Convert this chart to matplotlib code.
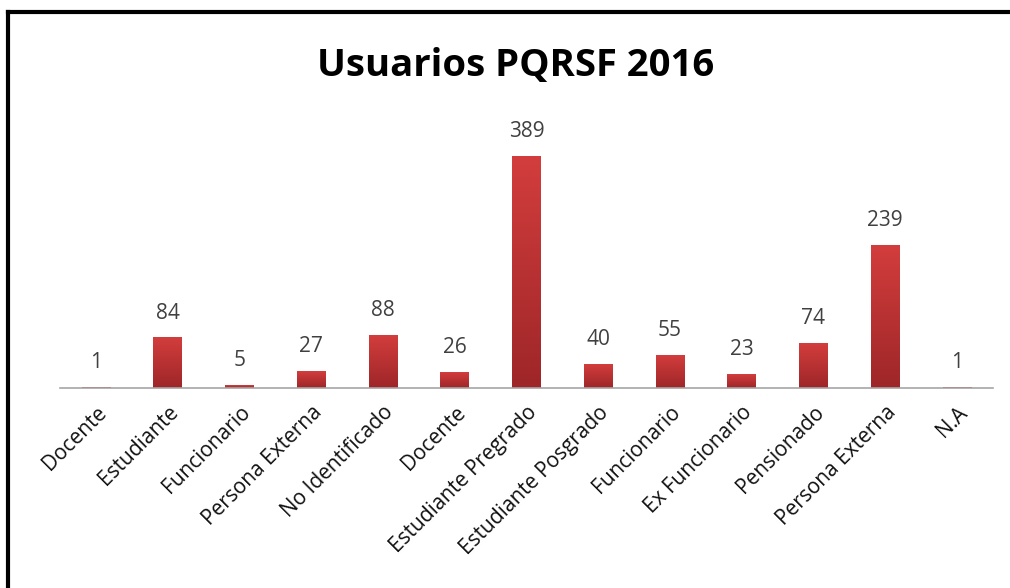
import numpy as np
import matplotlib
matplotlib.use("Agg")
import matplotlib.pyplot as plt
from matplotlib.colors import LinearSegmentedColormap
from matplotlib.lines import Line2D

categorias = ["Docente", "Estudiante", "Funcionario", "Persona Externa",
              "No Identificado", "Docente", "Estudiante Pregrado",
              "Estudiante Posgrado", "Funcionario", "Ex Funcionario",
              "Pensionado", "Persona Externa", "N.A"]
usuarios = [1, 84, 5, 27, 88, 26, 389, 40, 55, 23, 74, 239, 1]

plt.rcParams["font.family"] = ["Open Sans", "DejaVu Sans"]

fig = plt.figure(figsize=(10.1, 5.88), dpi=100)
ax = fig.add_axes([0.0594, 0.340, 0.9236, 0.456])

x = np.arange(len(usuarios))
bars = ax.bar(x, usuarios, width=0.40, color="#C03535", zorder=2)

# degradado vertical tipo Excel
grad = LinearSegmentedColormap.from_list("rojo", ["#9E2628", "#D33D3D"])
g = np.linspace(0, 1, 256).reshape(-1, 1)
for b in bars:
    x0, w, h = b.get_x(), b.get_width(), b.get_height()
    if h <= 0:
        continue
    b.set_facecolor("none")
    ax.imshow(g, cmap=grad, origin="lower", aspect="auto",
              extent=(x0, x0 + w, 0, h), zorder=3)

for xi, v in zip(x, usuarios):
    ax.annotate(str(v), (xi, v), xytext=(0, 18), textcoords="offset points",
                ha="center", va="center", fontsize=15, color="#404040")

ax.set_xlim(-0.5, len(usuarios) - 0.5)
ax.set_ylim(0, 450)
ax.set_xticks(x)
ax.set_xticklabels(categorias, rotation=45, ha="right", rotation_mode="anchor",
                   fontsize=15, color="#111111")
ax.tick_params(axis="x", length=0, pad=10)
ax.set_yticks([])
for s in ["left", "right", "top"]:
    ax.spines[s].set_visible(False)
ax.spines["bottom"].set_color("#A6A6A6")
ax.spines["bottom"].set_linewidth(1.2)
ax.spines["bottom"].set_zorder(4)

fig.text(0.511, 0.888, "Usuarios PQRSF 2016", ha="center", va="center",
         fontsize=27.5, fontweight="bold", color="black")

# marco del gráfico (solo arriba e izquierda visibles)
fig.add_artist(Line2D([0.0079, 1.0], [0.9804, 0.9804], color="black", lw=3))
fig.add_artist(Line2D([0.0079, 0.0079], [0.0, 0.9804], color="black", lw=3))

fig.savefig("out.png", dpi=100)
